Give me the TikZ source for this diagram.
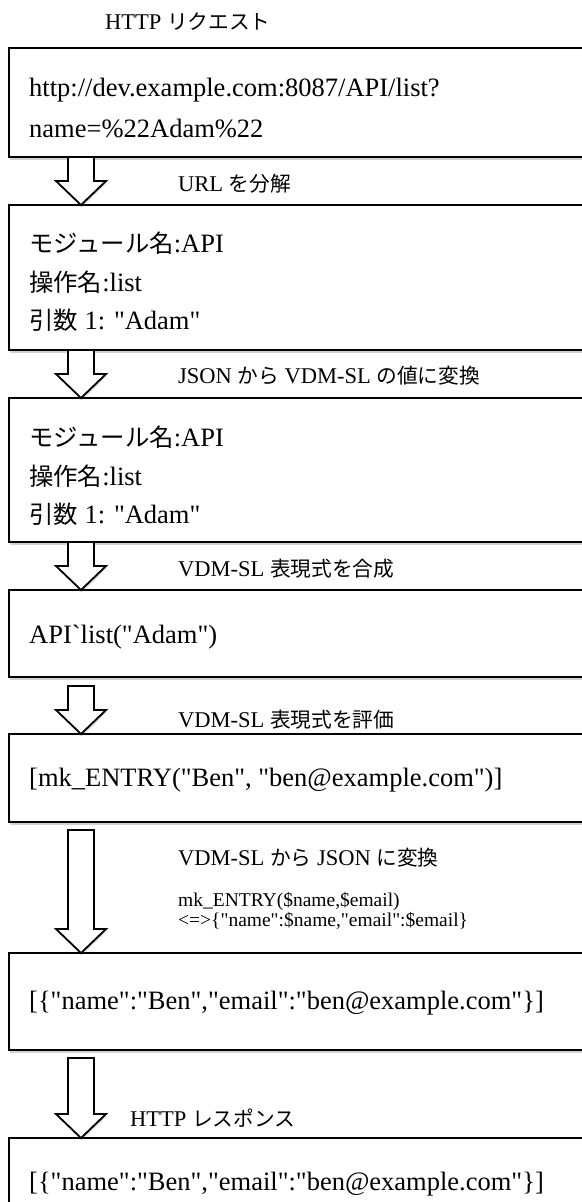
\documentclass[tikz,border=0pt]{standalone}
\usepackage{fontspec}
\setmainfont{Liberation Serif}[Ligatures=TeXOff]
\newfontfamily\jp{Noto Sans CJK JP}[Scale=0.92]
\usetikzlibrary{calc,shadows}
\tikzset{
  x=1pt, y=1pt,
  box/.style={draw=black, line width=2pt, fill=white, anchor=north west,
    minimum width=620pt, inner sep=0pt, outer sep=0pt,
    drop shadow={shadow xshift=1pt, shadow yshift=-3pt, opacity=0.3, fill=black!60}},
  barrow/.style={draw=black, line width=1.8pt, fill=white, line join=miter,
    drop shadow={shadow xshift=1pt, shadow yshift=-2pt, opacity=0.25, fill=black!60}},
  body/.style={anchor=base west, inner sep=0pt, font=\fontsize{26.5}{30}\selectfont},
  lbl/.style={anchor=base west, inner sep=0pt, font=\fontsize{22.5}{27}\selectfont},
  smalllbl/.style={anchor=base west, inner sep=0pt, font=\fontsize{19.5}{22}\selectfont},
}
% block arrow from node #1 (bottom) to node #2 (top); #3 gap below #1
\newcommand{\blockarrow}[3]{%
  \draw[barrow] let \p1=(#1.south west), \p2=(#2.north west) in
    (\x1+59pt,\y1-#3) -- (\x1+59pt,\y2+24pt) -- (\x1+47pt,\y2+24pt) --
    (\x1+72pt,\y2) -- (\x1+97pt,\y2+24pt) -- (\x1+85pt,\y2+24pt) --
    (\x1+85pt,\y1-#3) -- cycle;}
\begin{document}
\begin{tikzpicture}
\useasboundingbox (0,0) rectangle (581,-1202);
% boxes
\node[box, minimum height=109pt] (b1) at (9,-48) {};
\node[box, minimum height=145pt] (b2) at (9,-205) {};
\node[box, minimum height=144pt] (b3) at (9,-398) {};
\node[box, minimum height=87pt]  (b4) at (9,-590) {};
\node[box, minimum height=88pt]  (b5) at (9,-734) {};
\node[box, minimum height=97pt]  (b6) at (9,-953) {};
\node[box, minimum height=120pt] (b7) at (9,-1138) {};
% arrows
\blockarrow{b1}{b2}{0pt}
\blockarrow{b2}{b3}{0pt}
\blockarrow{b3}{b4}{0pt}
\blockarrow{b4}{b5}{9pt}
\blockarrow{b5}{b6}{8pt}
\blockarrow{b6}{b7}{8pt}
% labels
\node[lbl] (t0) at (105,-29) {HTTP {\jp リクエスト}};
\node[lbl] (t1) at (178,-191) {URL {\jp を分解}};
\node[lbl] (t2) at (178,-383) {JSON {\jp から} VDM-SL {\jp の値に変換}};
\node[lbl] (t3) at (178,-576) {VDM-SL {\jp 表現式を合成}};
\node[lbl] (t4) at (178,-727) {VDM-SL {\jp 表現式を評価}};
\node[lbl] (t5) at (178,-865) {VDM-SL {\jp から} JSON {\jp に変換}};
\node[smalllbl] (t6) at (178,-906) {mk\_ENTRY(\$name,\$email)};
\node[smalllbl] (t7) at (178,-926) {<=>\{"name":\$name,"email":\$email\}};
\node[lbl] (t8) at (130,-1126) {HTTP {\jp レスポンス}};
% box texts
\node[body] (x1a) at (29,-96) {http://dev.example.com:8087/API/list?};
\node[body] (x1b) at (29,-137) {name=\%22Adam\%22};
\node[body] (x2a) at (29,-252) {{\jp モジュール名}:API};
\node[body] (x2b) at (29,-291) {{\jp 操作名}:list};
\node[body] (x2c) at (29,-329) {{\jp 引数} 1: "Adam"};
\node[body] (x3a) at (29,-446) {{\jp モジュール名}:API};
\node[body] (x3b) at (29,-485) {{\jp 操作名}:list};
\node[body] (x3c) at (29,-523) {{\jp 引数} 1: "Adam"};
\node[body] (x4) at (29,-643) {API`list("Adam")};
\node[body] (x5) at (29,-786) {[mk\_ENTRY("Ben", "ben@example.com")]};
\node[body] (x6) at (29,-1009) {[\{"name":"Ben","email":"ben@example.com"\}]};
\node[body] (x7) at (29,-1190) {[\{"name":"Ben","email":"ben@example.com"\}]};
\end{tikzpicture}
\end{document}
